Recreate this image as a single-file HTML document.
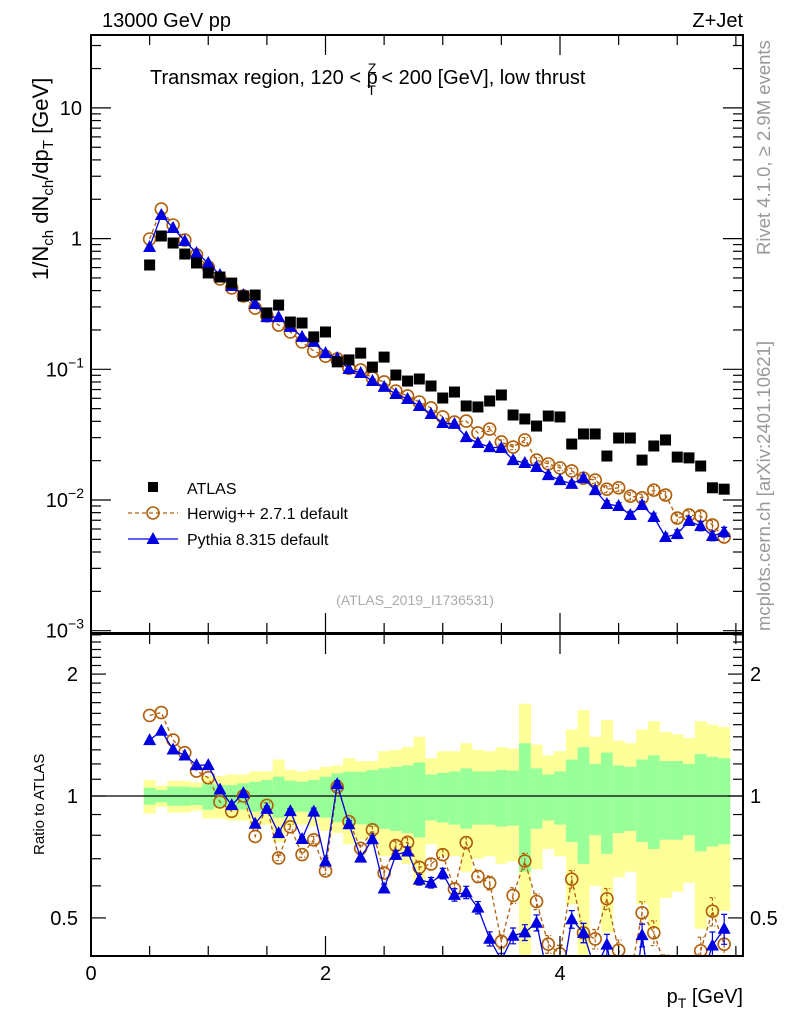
<!DOCTYPE html>
<html><head><meta charset="utf-8">
<style>
html,body{margin:0;padding:0;background:#fff;width:786px;height:1024px;overflow:hidden;}
svg{display:block;font-family:"Liberation Sans",Arial,sans-serif;}
</style></head>
<body>
<svg id="chart" width="786" height="1024" viewBox="0 0 786 1024" xmlns="http://www.w3.org/2000/svg">
<g id="bands"></g>
<g id="marks"></g>
<g id="axes"></g>
<text x="102" y="27" font-size="20">13000 GeV pp</text>
<text x="743" y="27" font-size="20" text-anchor="end">Z+Jet</text>
<text x="150" y="84" font-size="20">Transmax region, 120 &lt; p<tspan font-size="14" dx="-10" dy="-11">Z</tspan><tspan font-size="14" dx="-9" dy="22">T</tspan><tspan dy="-11"> &lt; 200 [GeV], low thrust</tspan></text>
<text x="415" y="605" font-size="14" fill="#aaa" text-anchor="middle">(ATLAS_2019_I1736531)</text>
<text transform="translate(770,255) rotate(-90)" font-size="18.5" fill="#999">Rivet 4.1.0, ≥ 2.9M events</text>
<text transform="translate(770,631) rotate(-90)" font-size="18.5" fill="#999">mcplots.cern.ch [arXiv:2401.10621]</text>
<text transform="translate(48,280) rotate(-90)" font-size="22">1/N<tspan font-size="15" dy="5">ch</tspan><tspan dy="-5"> dN</tspan><tspan font-size="15" dy="5">ch</tspan><tspan dy="-5">/dp</tspan><tspan font-size="15" dy="5">T</tspan><tspan dy="-5"> [GeV]</tspan></text>
<text transform="translate(44,855) rotate(-90)" font-size="15">Ratio to ATLAS</text>
<text x="743" y="1003" font-size="20" text-anchor="end">p<tspan font-size="14" dy="5">T</tspan><tspan dy="-5"> [GeV]</tspan></text>
<g>
  <rect x="148" y="482" width="10" height="10" fill="#000"/>
  <text x="187" y="494" font-size="16">ATLAS</text>
  <line x1="128" y1="513" x2="178" y2="513" stroke="#b05f0a" stroke-width="1.3" stroke-dasharray="4,3"/>
  <circle cx="153" cy="513" r="6" fill="none" stroke="#b05f0a" stroke-width="1.6"/>
  <text x="187" y="519" font-size="16">Herwig++ 2.7.1 default</text>
  <line x1="128" y1="539" x2="178" y2="539" stroke="#0000e0" stroke-width="1.3"/>
  <path d="M153,532 L159.5,544 L146.5,544 Z" fill="#0000e0"/>
  <text x="187" y="545" font-size="16">Pythia 8.315 default</text>
</g>
</svg>
<script>
const pT = [0.5,0.6,0.7,0.8,0.9,1.0,1.1,1.2,1.3,1.4,1.5,1.6,1.7,1.8,1.9,2.0,2.1,2.2,2.3,2.4,2.5,2.6,2.7,2.8,2.9,3.0,3.1,3.2,3.3,3.4,3.5,3.6,3.7,3.8,3.9,4.0,4.1,4.2,4.3,4.4,4.5,4.6,4.7,4.8,4.9,5.0,5.1,5.2,5.3,5.4];
const atlas = [0.628,1.047,0.925,0.762,0.651,0.546,0.508,0.457,0.364,0.370,0.270,0.310,0.230,0.226,0.177,0.193,0.114,0.118,0.133,0.104,0.124,0.0904,0.0813,0.0843,0.0745,0.0603,0.0670,0.0524,0.0515,0.0572,0.0636,0.0447,0.0417,0.0368,0.0439,0.0432,0.0268,0.0320,0.0320,0.0217,0.0298,0.0298,0.0202,0.0259,0.0288,0.0213,0.0210,0.0182,0.0124,0.0121];
const herwig = [0.993,1.683,1.271,0.975,0.750,0.606,0.491,0.419,0.364,0.294,0.256,0.218,0.193,0.162,0.138,0.126,0.120,0.102,0.0988,0.0858,0.0800,0.0682,0.0625,0.0562,0.0506,0.0432,0.0395,0.0402,0.0326,0.0349,0.0278,0.0254,0.0288,0.0202,0.0189,0.0176,0.0167,0.0147,0.0142,0.0121,0.0124,0.0107,0.0104,0.0119,0.0109,0.00728,0.00768,0.00755,0.00644,0.00521];
const pythia = [0.863,1.517,1.205,0.959,0.776,0.651,0.527,0.434,0.370,0.316,0.251,0.251,0.211,0.177,0.162,0.133,0.122,0.1005,0.0937,0.0813,0.0733,0.0647,0.0593,0.0524,0.0455,0.0388,0.0382,0.0303,0.0273,0.0254,0.0250,0.0202,0.0192,0.0179,0.0155,0.0142,0.0133,0.0147,0.0119,0.00932,0.00900,0.00768,0.00916,0.00741,0.00521,0.00549,0.00691,0.00632,0.00530,0.00569];
const modelRelErr = [0.01,0.01,0.01,0.01,0.01,0.01,0.01,0.01,0.01,0.01,0.015,0.015,0.015,0.015,0.02,0.02,0.02,0.02,0.02,0.02,0.025,0.025,0.025,0.03,0.03,0.03,0.035,0.035,0.035,0.04,0.04,0.045,0.045,0.045,0.05,0.05,0.05,0.055,0.055,0.06,0.06,0.065,0.065,0.07,0.07,0.075,0.075,0.08,0.08,0.085];
const greenHalf = [0.048,0.035,0.054,0.054,0.05,0.075,0.064,0.064,0.075,0.085,0.095,0.116,0.091,0.085,0.095,0.116,0.138,0.148,0.148,0.159,0.17,0.18,0.19,0.21,0.13,0.14,0.15,0.17,0.15,0.15,0.16,0.155,0.35,0.17,0.13,0.15,0.23,0.32,0.20,0.28,0.19,0.18,0.23,0.26,0.22,0.22,0.20,0.27,0.25,0.24];
const yellowHalf = [0.095,0.06,0.09,0.09,0.08,0.12,0.12,0.13,0.13,0.15,0.15,0.23,0.16,0.15,0.16,0.18,0.19,0.24,0.22,0.22,0.29,0.30,0.32,0.40,0.24,0.29,0.29,0.35,0.30,0.29,0.32,0.31,0.69,0.34,0.26,0.29,0.46,0.63,0.40,0.54,0.37,0.35,0.46,0.53,0.44,0.42,0.39,0.53,0.50,0.48];
const xTicks = [0,2,4];
const yMainTicks = [{v:10,l:"10"},{v:1,l:"1"},{v:0.1,l:"10"},{v:0.01,l:"10"},{v:0.001,l:"10"}];
const yMainExp = ["","","−1","−2","−3"];
const yRatioTicks = [0.5,1,2];

const NS="http://www.w3.org/2000/svg";
const L=91,R=743,MT=35,MB=633,RT=634,RB=956;
const xMin=0,xMax=(R-L)/117.25;
const X=v=>L+(v-xMin)*117.25;
const Ym=v=>500-(Math.log10(v)+2)*130.7;
const Yr=v=>796-Math.log10(v)*405;
const bw=0.1;
function mk(tag,attrs,parent){const e=document.createElementNS(NS,tag);for(const k in attrs)e.setAttribute(k,attrs[k]);parent.appendChild(e);return e;}
const bands=document.getElementById('bands'),marks=document.getElementById('marks'),axes=document.getElementById('axes');
const clampR=v=>Math.min(Math.max(Yr(Math.max(v,0.01)),RT),RB);

pT.forEach((p,i)=>{
  const x0=X(p-bw/2),w=X(p+bw/2)-x0;
  const ty=clampR(1+yellowHalf[i]),by=clampR(1-yellowHalf[i]);
  const y1=mk('rect',{x:x0,y:ty,width:w+0.3,height:by-ty,fill:'#ffff99'},bands);
  
  
  const tg=clampR(1+greenHalf[i]),bg=clampR(1-greenHalf[i]);
  const g1=mk('rect',{x:x0,y:tg,width:w+0.3,height:bg-tg,fill:'#99ff99'},bands);
  
  
});
const one=mk('line',{x1:L,x2:R,y1:Yr(1),y2:Yr(1),stroke:'#000','stroke-width':1.3},bands);



const defs=mk('defs',{},marks);
const c1=mk('clipPath',{id:'cm'},defs);mk('rect',{x:L,y:MT,width:R-L,height:MB-MT},c1);
const c2=mk('clipPath',{id:'cr'},defs);mk('rect',{x:L,y:RT,width:R-L,height:RB-RT},c2);
const gm=mk('g',{'clip-path':'url(#cm)'},marks);


const gr=mk('g',{'clip-path':'url(#cr)'},marks);



function series(g,vals,Y,color,dash,kind,name){
  const pts=vals.map((v,i)=>X(pT[i])+','+Y(v)).join(' ');
  const pl=mk('polyline',{points:pts,fill:'none',stroke:color,'stroke-width':1.3},g);
  if(dash)pl.setAttribute('stroke-dasharray','4,3');
  
  
  vals.forEach((v,i)=>{
    const x=X(pT[i]),y=Y(v);
    const e=modelRelErr[i];
    const yu=Y(v*(1+e)),yd=Y(v*(1-e));
    if(Math.abs(yd-yu)>4){
      const eb=mk('path',{d:`M${x},${yu}V${yd}M${x-3},${yu}H${x+3}M${x-3},${yd}H${x+3}`,stroke:color,'stroke-width':1.2,fill:'none'},g);
      if(dash)eb.setAttribute('stroke-dasharray','3,2');
      
      
    }
    let m;
    if(kind==='circle') m=mk('circle',{cx:x,cy:y,r:6,fill:'none',stroke:color,'stroke-width':1.6},g);
    else m=mk('path',{d:`M${x},${y-7}L${x+6.5},${y+5}L${x-6.5},${y+5}Z`,fill:color},g);
    
    
  });
}
series(gm,herwig,Ym,'#b05f0a',true,'circle','herwig');
series(gm,pythia,Ym,'#0000e0',false,'tri','pythia');
atlas.forEach((v,i)=>{
  const r=mk('rect',{x:X(pT[i])-5.5,y:Ym(v)-5.5,width:11,height:11,fill:'#000'},gm);
  
  
});
series(gr,herwig.map((v,i)=>v/atlas[i]),Yr,'#b05f0a',true,'circle','herwig-ratio');
series(gr,pythia.map((v,i)=>v/atlas[i]),Yr,'#0000e0',false,'tri','pythia-ratio');

[[MT,MB,'main-frame'],[RT,RB,'ratio-frame']].forEach(([t,b,n])=>{
  const f=mk('rect',{x:L,y:t,width:R-L,height:b-t,fill:'none',stroke:'#000','stroke-width':2},axes);
  
  
});
for(let k=0;k<=Math.floor(xMax*2);k++){
  const v=k*0.5,x=X(v),major=(k%4===0);
  const len=major?20:10;
  [[MT,1],[MB,-1],[RT,1],[RB,-1]].forEach(([y0,s])=>mk('line',{x1:x,x2:x,y1:y0,y2:y0+s*len,stroke:'#000','stroke-width':1.2},axes));
}
xTicks.forEach(v=>{
  const t=mk('text',{x:X(v),y:980,'font-size':20,'text-anchor':'middle'},axes);t.textContent=v;
  
  
});
for(let d=-3;d<=1;d++){
  for(let m=1;m<10;m++){
    const v=m*Math.pow(10,d),y=Ym(v);
    if(y<MT||y>MB)continue;
    const len=m===1?20:10;
    mk('line',{x1:L,x2:L+len,y1:y,y2:y,stroke:'#000','stroke-width':1.2},axes);
    mk('line',{x1:R,x2:R-len,y1:y,y2:y,stroke:'#000','stroke-width':1.2},axes);
  }
}
yMainTicks.forEach((t,i)=>{
  const tx=mk('text',{x:yMainExp[i]?58:82,y:Ym(t.v)+7,'font-size':20,'text-anchor':'end'},axes);
  tx.textContent=t.l;
  if(yMainExp[i]){const s=mk('tspan',{'font-size':14,dy:-9},tx);s.textContent=yMainExp[i];tx.setAttribute('x',84);}
  
  
});
for(let k=4;k<=25;k++){
  const v=k/10,y=Yr(v);
  if(y<RT||y>RB)continue;
  const major=(v===0.5||v===1||v===2);
  const len=major?15:10;
  mk('line',{x1:L,x2:L+len,y1:y,y2:y,stroke:'#000','stroke-width':1.2},axes);
  mk('line',{x1:R,x2:R-len,y1:y,y2:y,stroke:'#000','stroke-width':1.2},axes);
}
yRatioTicks.forEach(v=>{
  const a=mk('text',{x:78,y:Yr(v)+7,'font-size':20,'text-anchor':'end'},axes);a.textContent=v;
  
  
  const b=mk('text',{x:750,y:Yr(v)+7,'font-size':20},axes);b.textContent=v;
  
  
});
</script>
</body></html>
